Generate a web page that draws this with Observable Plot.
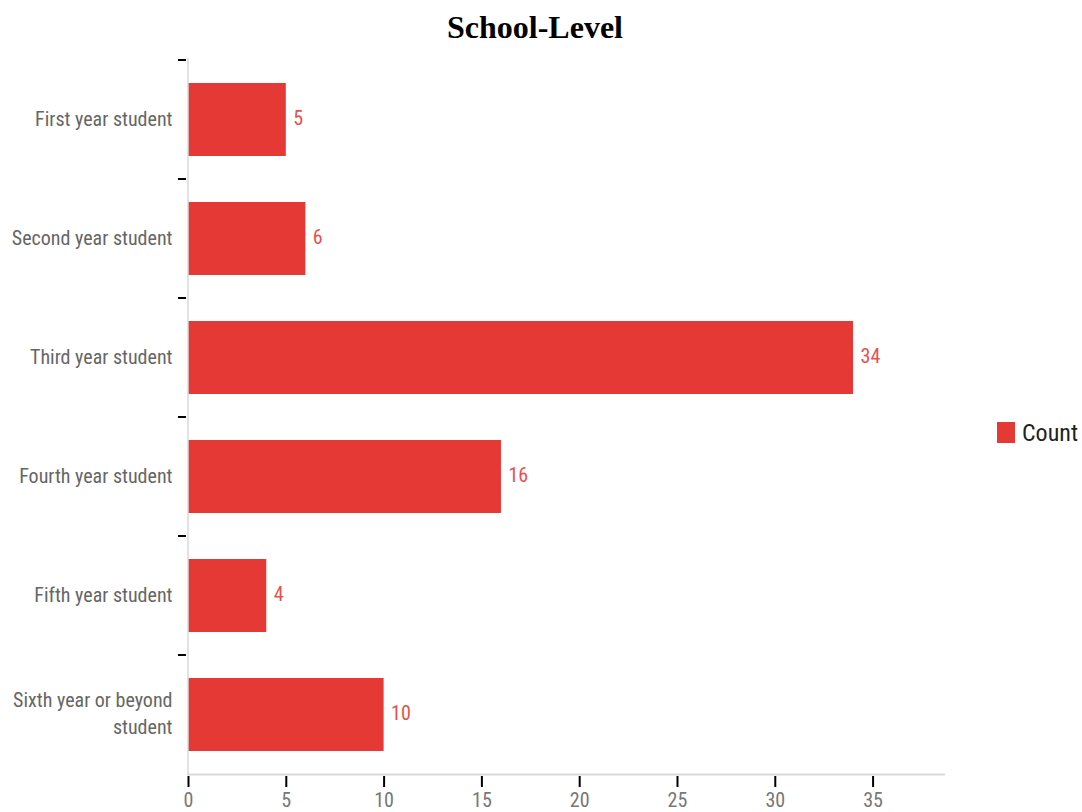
<!DOCTYPE html>
<html>
<head>
<meta charset="utf-8">
<script src="https://cdn.jsdelivr.net/npm/d3@7"></script>
<script src="https://cdn.jsdelivr.net/npm/@observablehq/plot@0.6"></script>
<style>
  html, body { margin: 0; padding: 0; background: #fff; overflow: hidden; }
  #wrap { position: relative; width: 1082px; height: 812px; }
  #title {
    position: absolute; left: 0; top: 11px; width: 1070px;
    text-align: center; font-family: "Liberation Serif", "Times New Roman", serif;
    font-weight: bold; font-size: 32px; line-height: 32px; color: #000;
  }
  #chart { position: absolute; left: 0; top: 50px; }
  #legend {
    position: absolute; left: 997px; top: 422px; height: 21px; display: flex; align-items: center;
    font-family: "Liberation Sans Narrow", "Roboto Condensed", "Liberation Sans", sans-serif;
    font-size: 24px; color: #222;
  }
  #legend .sw { width: 18px; height: 21px; background: #e53935; margin-right: 7px; flex: none; }
  svg text { font-family: "Liberation Sans Narrow", "Roboto Condensed", "Liberation Sans", sans-serif; }
</style>
</head>
<body>
<div id="wrap">
  <div id="title">School-Level</div>
  <div id="chart"></div>
  <div id="legend"><div class="sw"></div><span>Count</span></div>
</div>
<script>
// School level categories and their counts
const levels = [
  "First year student",
  "Second year student",
  "Third year student",
  "Fourth year student",
  "Fifth year student",
  "Sixth year or beyond student"
];
const counts = [5, 6, 34, 16, 4, 10];
const xTicks = [0, 5, 10, 15, 20, 25, 30, 35];

const rows = levels.map((level, i) => ({level, count: counts[i]}));
const barColor = "#e53935";

// Short black ticks on the left axis at band boundaries, plus the two light axis lines
function axisFrame(index, scales, values, dimensions) {
  const g = d3.create("svg:g");
  const y = scales.y;
  const starts = levels.map(l => y(l));
  const step = starts[1] - starts[0];
  const bw = y.bandwidth ? y.bandwidth() : step * 0.61;
  const gap = (step - bw) / 2;
  const left = dimensions.marginLeft;
  const right = dimensions.width - dimensions.marginRight;
  const top = dimensions.marginTop;
  const bottom = dimensions.height - dimensions.marginBottom - 1.5;
  g.append("line").attr("x1", left).attr("x2", left).attr("y1", top).attr("y2", bottom)
    .attr("stroke", "#d9d9d9").attr("stroke-width", 1.5);
  g.append("line").attr("x1", left - 1).attr("x2", right + 2).attr("y1", bottom).attr("y2", bottom)
    .attr("stroke", "#d9d9d9").attr("stroke-width", 2);
  starts.forEach(s => {
    g.append("line").attr("x1", left - 10).attr("x2", left - 2)
      .attr("y1", s - gap).attr("y2", s - gap)
      .attr("stroke", "#000").attr("stroke-width", 2);
  });
  return g.node();
}

const chart = Plot.plot({
  width: 1082,
  height: 762,
  marginTop: 8,
  marginBottom: 36,
  marginLeft: 188,
  marginRight: 139,
  style: {fontSize: "20px", color: "#777", background: "#fff", overflow: "visible"},
  x: {domain: [0, 38.6], ticks: xTicks, label: null},
  y: {domain: levels, paddingInner: 0.39, paddingOuter: 0.195, label: null},
  marks: [
    Plot.barX(rows, {x: "count", y: "level", fill: barColor}),
    Plot.text(rows, {x: "count", y: "level", text: d => String(d.count), dx: 7, dy: -1,
      textAnchor: "start", fill: "#e8504c", fontSize: 20}),
    Plot.axisX({ticks: xTicks, tickSize: 11, tickPadding: 5, stroke: "#000", strokeWidth: 2,
      color: "#777", fontSize: 20}),
    Plot.axisY({tickSize: 0, tickPadding: 16, fill: "#666", fontSize: 20, lineHeight: 1.35, dy: -3,
      tickFormat: d => d.replace("or beyond ", "or beyond\n")}),
    axisFrame
  ]
});

document.getElementById("chart").appendChild(chart);
</script>
</body>
</html>
